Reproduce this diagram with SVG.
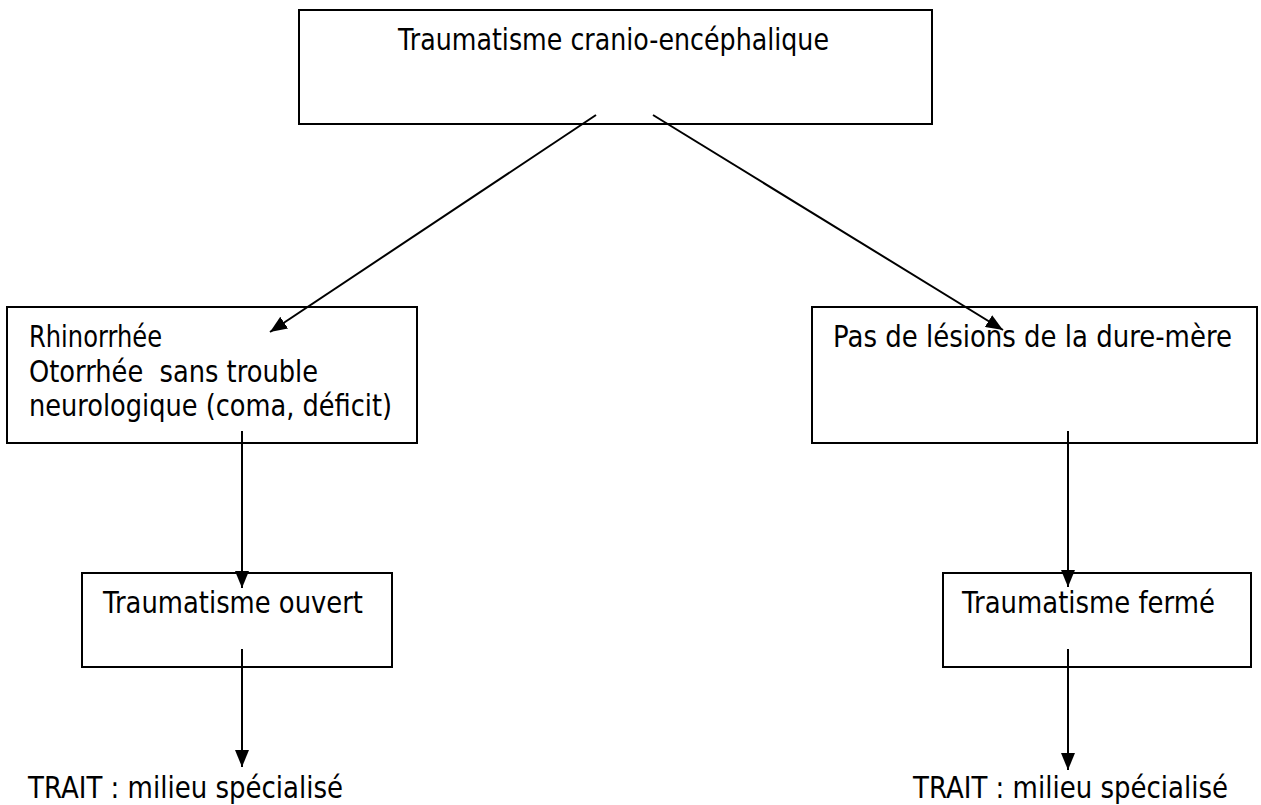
<svg xmlns="http://www.w3.org/2000/svg" width="1261" height="805" viewBox="0 0 1261 805">
  <style>
    .box { fill: #ffffff; stroke: #000000; stroke-width: 2; }
    .lbl { font-family: "DejaVu Sans", Verdana, sans-serif; font-size: 30px; fill: #000000; }
    .edge { stroke: #000000; stroke-width: 2; fill: none; marker-end: url(#head); }
  </style>
  <defs>
    <marker id="head" viewBox="0 0 17 14" refX="17" refY="7" markerWidth="17" markerHeight="14" markerUnits="userSpaceOnUse" orient="auto">
      <path d="M0,0 L17,7 L0,14 Z" fill="#000000"/>
    </marker>
  </defs>
  <rect width="1261" height="805" fill="#ffffff"/>

  <g id="tce">
    <rect class="box" x="299" y="10" width="633" height="114"/>
    <text class="lbl" x="398" y="50" textLength="431" lengthAdjust="spacingAndGlyphs">Traumatisme cranio-encéphalique</text>
  </g>

  <g id="lesion-dure-mere">
    <rect class="box" x="7" y="307" width="410" height="136"/>
    <text class="lbl" x="29" y="347" textLength="133" lengthAdjust="spacingAndGlyphs">Rhinorrhée</text>
    <text class="lbl" x="29" y="382" textLength="289" lengthAdjust="spacingAndGlyphs" xml:space="preserve">Otorrhée  sans trouble</text>
    <text class="lbl" x="29" y="416" textLength="363" lengthAdjust="spacingAndGlyphs">neurologique (coma, déficit)</text>
  </g>

  <g id="pas-de-lesion">
    <rect class="box" x="812" y="307" width="445" height="136"/>
    <text class="lbl" x="833" y="347" textLength="399" lengthAdjust="spacingAndGlyphs">Pas de lésions de la dure-mère</text>
  </g>

  <g id="trauma-ouvert">
    <rect class="box" x="82" y="573" width="310" height="94"/>
    <text class="lbl" x="103" y="613" textLength="260" lengthAdjust="spacingAndGlyphs">Traumatisme ouvert</text>
  </g>

  <g id="trauma-ferme">
    <rect class="box" x="943" y="573" width="308" height="94"/>
    <text class="lbl" x="962" y="613" textLength="253" lengthAdjust="spacingAndGlyphs">Traumatisme fermé</text>
  </g>

  <g id="trait-ouvert">
    <text class="lbl" x="28" y="798" textLength="315" lengthAdjust="spacingAndGlyphs">TRAIT : milieu spécialisé</text>
  </g>

  <g id="trait-ferme">
    <text class="lbl" x="913" y="798" textLength="315" lengthAdjust="spacingAndGlyphs">TRAIT : milieu spécialisé</text>
  </g>

  <g id="connectors">
    <line class="edge" x1="596" y1="115" x2="270" y2="332"/>
    <line class="edge" x1="653" y1="115" x2="1003" y2="330"/>
    <line class="edge" x1="242" y1="431" x2="242" y2="588"/>
    <line class="edge" x1="1068" y1="431" x2="1068" y2="587"/>
    <line class="edge" x1="242" y1="649" x2="242" y2="767"/>
    <line class="edge" x1="1068" y1="649" x2="1068" y2="770"/>
  </g>
</svg>
